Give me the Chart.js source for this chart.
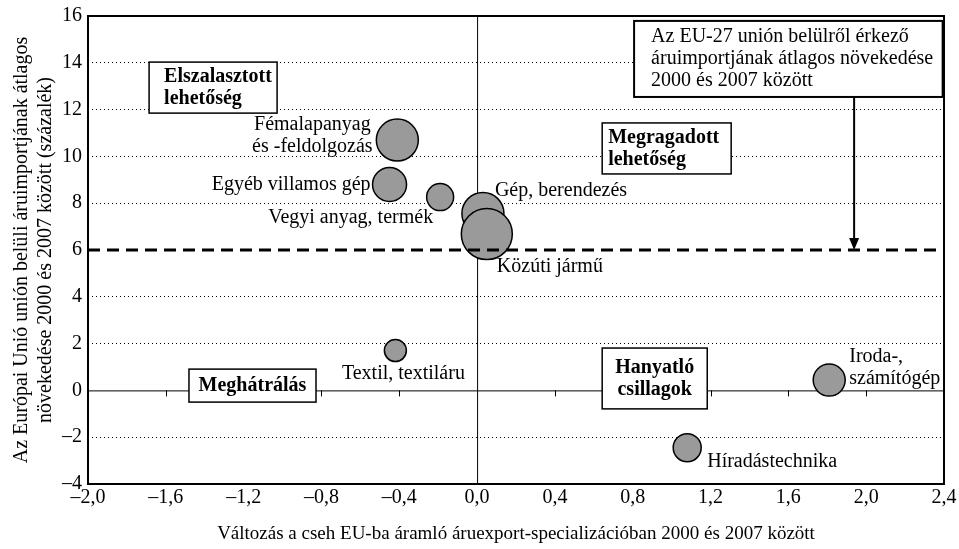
<!DOCTYPE html>
<html>
<head>
<meta charset="utf-8">
<script src="https://cdn.jsdelivr.net/npm/chart.js@4/dist/chart.umd.min.js"></script>
<style>
  html, body { margin: 0; padding: 0; background: #fff; }
  #wrap { width: 959px; height: 549px; }
</style>
</head>
<body>
<div id="wrap"><canvas id="chart" width="959" height="549"></canvas></div>
<script>
// Adatok
const categories = [
    'Fémalapanyag és -feldolgozás', 'Egyéb villamos gép', 'Vegyi anyag, termék',
    'Gép, berendezés', 'Közúti jármű', 'Textil, textiláru',
    'Iroda-, számítógép', 'Híradástechnika'
];
const xChange = [-0.41, -0.45, -0.19, 0.03, 0.05, -0.42, 1.81, 1.08];
const yGrowth = [10.7, 8.8, 8.26, 7.56, 6.68, 1.7, 0.44, -2.45];
const bubbleSize = [21, 17, 13.5, 21, 25.5, 11, 16, 14];
const xTicks = [-2.0, -1.6, -1.2, -0.8, -0.4, 0.0, 0.4, 0.8, 1.2, 1.6, 2.0, 2.4];
const yTicks = [-4, -2, 0, 2, 4, 6, 8, 10, 12, 14, 16];
const euAverage = 6;

const FONT = "'Liberation Serif', 'Times New Roman', serif";

// Feliratok elhelyezése a buborékokhoz képest (px)
const labelPlace = [
    { lines: ['Fémalapanyag', 'és -feldolgozás'], dx: -85, dy: -15, align: 'center' },
    { lines: ['Egyéb villamos gép'], dx: -19, dy: 0, align: 'right' },
    { lines: ['Vegyi anyag, termék'], dx: -7, dy: 21, align: 'right' },
    { lines: ['Gép, berendezés'], dx: 12, dy: -23, align: 'left' },
    { lines: ['Közúti jármű'], dx: 10, dy: 33, align: 'left' },
    { lines: ['Textil, textiláru'], dx: 8, dy: 23, align: 'center' },
    { lines: ['Iroda-,', 'számítógép'], dx: 20, dy: -23, align: 'left' },
    { lines: ['Híradástechnika'], dx: 20, dy: 14, align: 'left' }
];

// Szövegdobozok (adatkoordinátákban)
const boxes = [
    { x1: -1.686, y1: 14.03, x2: -1.028, y2: 11.85, lines: ['Elszalasztott', 'lehetőség'], bold: true, align: 'left', pad: 15, lw: 1.5 },
    { x1: 0.643, y1: 11.43, x2: 1.306, y2: 9.25, lines: ['Megragadott', 'lehetőség'], bold: true, align: 'left', pad: 6, lw: 1.5 },
    { x1: -1.481, y1: 0.91, x2: -0.828, y2: -0.50, lines: ['Meghátrálás'], bold: true, align: 'center', lw: 1.5 },
    { x1: 0.643, y1: 1.81, x2: 1.183, y2: -0.79, lines: ['Hanyatló', 'csillagok'], bold: true, align: 'center', lw: 1.5 },
    { x1: 0.807, y1: 15.79, x2: 2.393, y2: 12.54, lines: ['Az EU-27 unión belülről érkező', 'áruimportjának átlagos növekedése', '2000 és 2007 között'], bold: false, align: 'left', pad: 17, lw: 2 }
];

function fmt(v) {
    return v.toString().replace('-', '–');
}

// a tengelyfeliratok ne tolják el a rajzterületet
function noOverhang(s) {
    s.paddingLeft = 0;
    s.paddingRight = 0;
    s.paddingTop = 0;
    s.paddingBottom = 0;
}

const quadrantPlugin = {
    id: 'quadrant',
    beforeDatasetsDraw(chart) {
        const { ctx, chartArea: a, scales: { x, y } } = chart;
        const x0 = x.getPixelForValue(0);
        const y0 = y.getPixelForValue(0);
        ctx.save();
        ctx.strokeStyle = '#000';
        ctx.lineWidth = 1;
        ctx.beginPath();
        ctx.moveTo(a.left, y0 + 0.5);
        ctx.lineTo(a.right, y0 + 0.5);
        ctx.moveTo(x0 + 0.5, a.top);
        ctx.lineTo(x0 + 0.5, a.bottom);
        // kis osztásjelek a nulla vonalon
        xTicks.forEach(v => {
            if (v === 0 || v === xTicks[0] || v === xTicks[xTicks.length - 1]) return;
            const px = Math.round(x.getPixelForValue(v)) + 0.5;
            ctx.moveTo(px, y0);
            ctx.lineTo(px, y0 + 6);
        });
        ctx.stroke();
        ctx.restore();
    },
    afterDatasetsDraw(chart) {
        const { ctx, chartArea: a, scales: { x, y } } = chart;
        ctx.save();

        // buborék feliratok
        const meta = chart.getDatasetMeta(1);
        ctx.fillStyle = '#000';
        ctx.font = '20px ' + FONT;
        ctx.textBaseline = 'middle';
        meta.data.forEach((el, i) => {
            const p = labelPlace[i];
            ctx.textAlign = p.align;
            p.lines.forEach((t, j) => {
                ctx.fillText(t, el.x + p.dx, el.y + p.dy + j * 22);
            });
        });

        // nyíl az EU átlaghoz
        const ax = x.getPixelForValue(1.938);
        const ay1 = y.getPixelForValue(12.54);
        const ay2 = y.getPixelForValue(euAverage);
        ctx.strokeStyle = '#000';
        ctx.lineWidth = 2;
        ctx.beginPath();
        ctx.moveTo(ax, ay1);
        ctx.lineTo(ax, ay2 - 10);
        ctx.stroke();
        ctx.beginPath();
        ctx.moveTo(ax - 5, ay2 - 12);
        ctx.lineTo(ax + 5, ay2 - 12);
        ctx.lineTo(ax, ay2);
        ctx.closePath();
        ctx.fill();

        // dobozok
        boxes.forEach(b => {
            const l = x.getPixelForValue(b.x1), r = x.getPixelForValue(b.x2);
            const t = y.getPixelForValue(b.y1), bt = y.getPixelForValue(b.y2);
            ctx.fillStyle = '#fff';
            ctx.fillRect(l, t, r - l, bt - t);
            ctx.lineWidth = b.lw;
            ctx.strokeStyle = '#000';
            ctx.strokeRect(l, t, r - l, bt - t);
            ctx.fillStyle = '#000';
            ctx.font = (b.bold ? 'bold ' : '') + '20px ' + FONT;
            ctx.textAlign = b.align;
            ctx.textBaseline = 'middle';
            const lh = 22;
            const cy = (t + bt) / 2 - (b.lines.length - 1) * lh / 2;
            const tx = b.align === 'center' ? (l + r) / 2 : l + b.pad;
            b.lines.forEach((s, j) => ctx.fillText(s, tx, cy + j * lh));
        });

        // keret
        ctx.lineWidth = 2;
        ctx.strokeStyle = '#000';
        ctx.strokeRect(a.left, a.top, a.right - a.left, a.bottom - a.top);
        ctx.restore();
    }
};

const ctx = document.getElementById('chart').getContext('2d');
const chart = new Chart(ctx, {
    data: {
        datasets: [
            {
                type: 'line',
                label: 'EU-27 átlag',
                data: [{ x: xTicks[0], y: euAverage }, { x: xTicks[xTicks.length - 1], y: euAverage }],
                borderColor: '#000',
                borderWidth: 3,
                borderDash: [12, 7],
                pointRadius: 0,
                order: 0
            },
            {
                type: 'bubble',
                label: 'Ágazatok',
                data: categories.map((c, i) => ({ x: xChange[i], y: yGrowth[i], r: bubbleSize[i] })),
                backgroundColor: '#9a9a9a',
                borderColor: '#000',
                borderWidth: 1.5,
                order: 1
            }
        ]
    },
    options: {
        responsive: false,
        animation: false,
        devicePixelRatio: 1,
        layout: { autoPadding: false, padding: { top: 16, right: 15, left: 0, bottom: 0 } },
        plugins: {
            legend: { display: false },
            tooltip: { enabled: false }
        },
        scales: {
            x: {
                type: 'linear',
                min: xTicks[0],
                max: xTicks[xTicks.length - 1],
                afterBuildTicks: s => { s.ticks = xTicks.map(v => ({ value: v })); },
                afterFit: s => { s.height = 65; noOverhang(s); },
                ticks: {
                    color: '#000',
                    font: { family: FONT, size: 20 },
                    padding: 2,
                    maxRotation: 0,
                    callback: v => fmt(v.toFixed(1).replace('.', ','))
                },
                grid: { display: false, drawTicks: false },
                border: { display: false },
                title: {
                    display: true,
                    text: 'Változás a cseh EU-ba áramló áruexport-specializációban 2000 és 2007 között',
                    color: '#000',
                    font: { family: FONT, size: 19 },
                    padding: { top: 0, bottom: 4 }
                }
            },
            y: {
                type: 'linear',
                min: yTicks[0],
                max: yTicks[yTicks.length - 1],
                afterBuildTicks: s => { s.ticks = yTicks.map(v => ({ value: v })); },
                afterFit: s => { s.width = 88; noOverhang(s); },
                ticks: {
                    color: '#000',
                    font: { family: FONT, size: 20 },
                    padding: 6,
                    callback: v => fmt(v)
                },
                grid: {
                    drawTicks: false,
                    lineWidth: 1,
                    color: c => ([0, 6, yTicks[0], yTicks[yTicks.length - 1]].includes(c.tick.value) ? 'rgba(0,0,0,0)' : '#000')
                },
                border: { display: false, dash: [1, 3] },
                title: {
                    display: true,
                    text: ['Az Európai Unió unión belüli áruimportjának átlagos', 'növekedése 2000 és 2007 között (százalék)'],
                    color: '#000',
                    font: { family: FONT, size: 20 },
                    padding: { top: 10, bottom: 0 }
                }
            }
        }
    },
    plugins: [quadrantPlugin]
});
</script>
</body>
</html>
